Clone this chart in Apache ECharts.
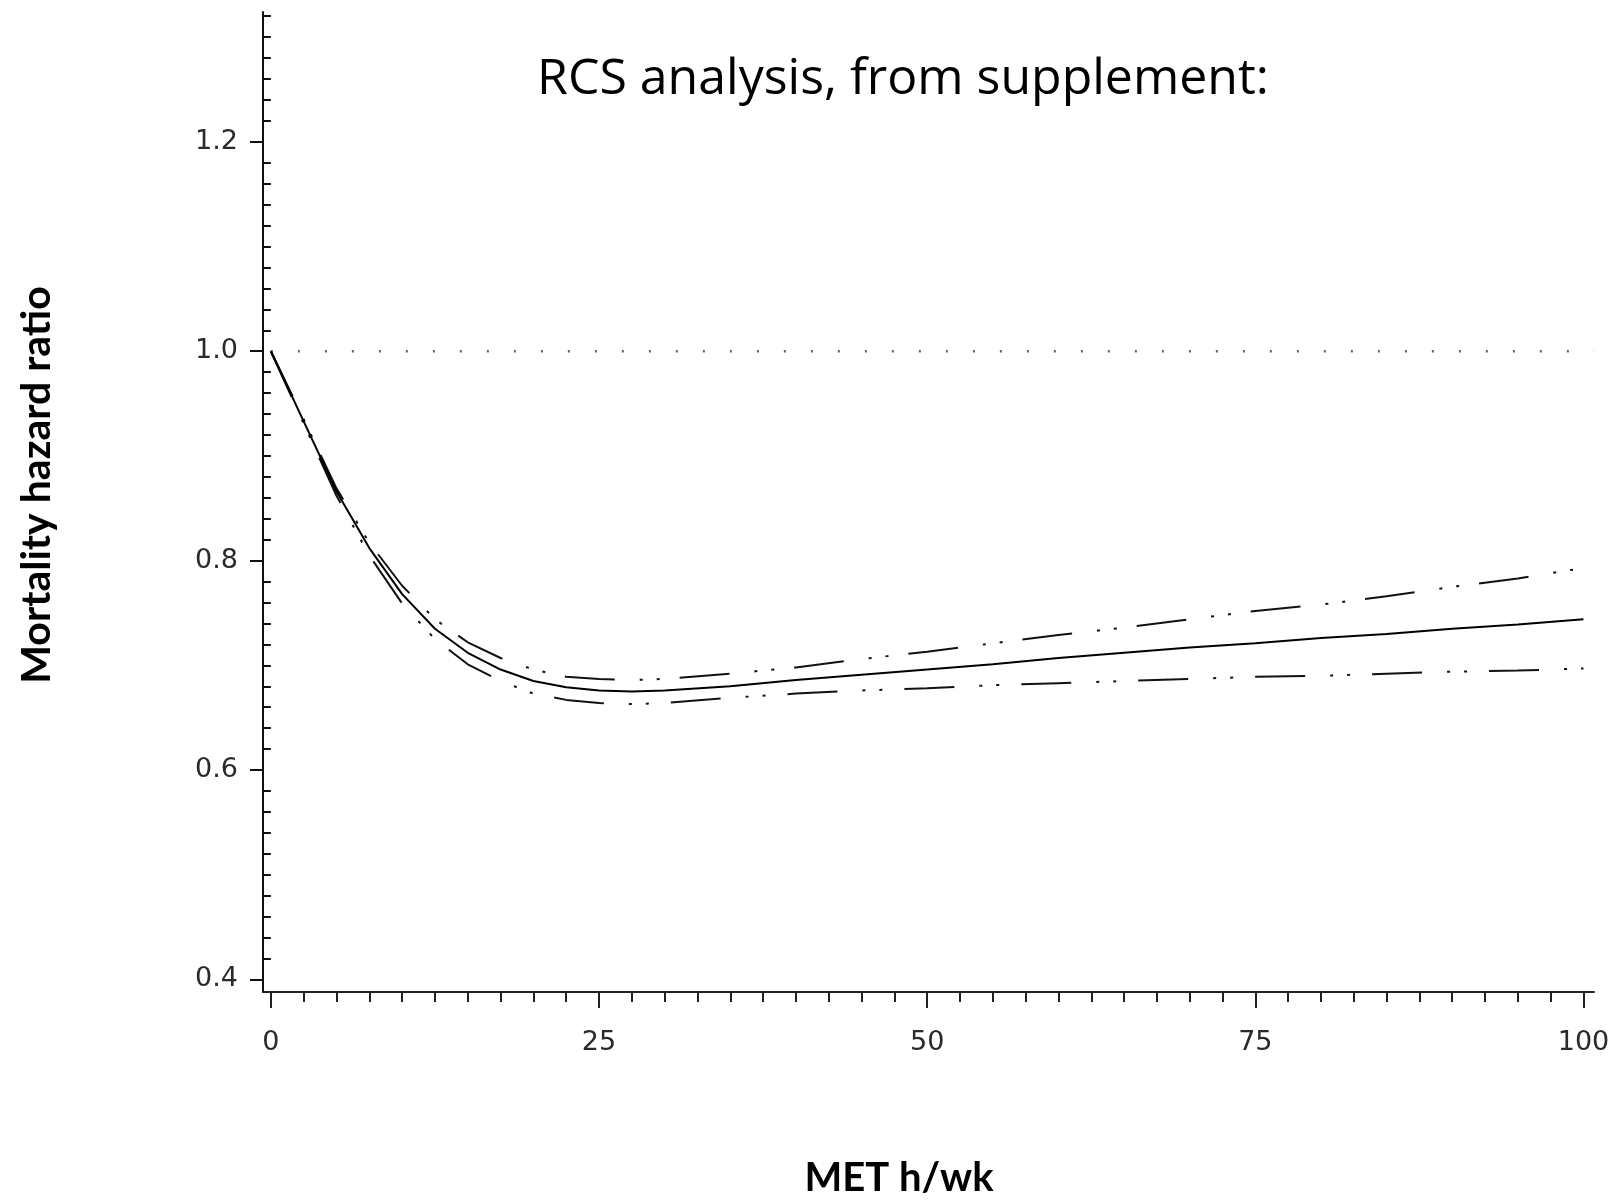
<!DOCTYPE html>
<html>
<head>
<meta charset="utf-8">
<script src="https://cdn.jsdelivr.net/npm/echarts@6/dist/echarts.min.js"></script>
<style>
html,body{margin:0;padding:0;background:#fff;}
#chart{width:1615px;height:1202px;}
</style>
</head>
<body>
<div id="chart"></div>
<script>
// ---- data ----
var metX = [0, 2.5, 5, 7.5, 10, 12.5, 15, 17.5, 20, 22.5, 25, 27.5, 30, 35, 40, 45, 50, 55, 60, 65, 70, 75, 80, 85, 90, 95, 100];
var hrCenter = [1.000, 0.933, 0.866, 0.812, 0.768, 0.735, 0.712, 0.696, 0.685, 0.679, 0.676, 0.675, 0.676, 0.680, 0.686, 0.691, 0.696, 0.701, 0.707, 0.712, 0.717, 0.721, 0.726, 0.730, 0.735, 0.739, 0.744];
var hrUpper  = [1.000, 0.935, 0.869, 0.817, 0.776, 0.744, 0.722, 0.707, 0.696, 0.689, 0.687, 0.686, 0.687, 0.692, 0.698, 0.706, 0.713, 0.721, 0.729, 0.736, 0.744, 0.752, 0.758, 0.766, 0.775, 0.783, 0.793];
var hrLower  = [1.000, 0.931, 0.862, 0.805, 0.759, 0.725, 0.701, 0.685, 0.673, 0.667, 0.664, 0.663, 0.664, 0.669, 0.673, 0.676, 0.678, 0.681, 0.683, 0.685, 0.687, 0.689, 0.690, 0.692, 0.694, 0.695, 0.697];
var refX = [0, 100.8];
var refY = [1.0, 1.0];

var xMajorTicks = [0, 25, 50, 75, 100];
var yMajorTicks = [0.4, 0.6, 0.8, 1.0, 1.2];

var titleText = 'RCS analysis, from supplement:';
var yTitle = 'Mortality hazard ratio';
var xTitle = 'MET h/wk';

// minor ticks
var xMinorTicks = [];
for (var i = 0; i <= 40; i++) { var v = i * 2.5; if (i % 10 !== 0) xMinorTicks.push(v); }
var yMinorTicks = [];
for (var j = 20; j <= 66; j++) { if (j % 10 !== 0) yMinorTicks.push(Math.round(j * 2) / 100); }

function zipXY(xs, ys) { return xs.map(function (x, k) { return [x, ys[k]]; }); }

var X_MIN = -0.6, X_MAX = 100.8, Y_MIN = 0.388, Y_MAX = 1.324;
var labelFont = { fontFamily: 'DejaVu Sans', fontSize: 27, color: '#2a2a2a' };

var chart = echarts.init(document.getElementById('chart'), null, { renderer: 'canvas' });
chart.setOption({
  animation: false,
  backgroundColor: '#fff',
  grid: { left: 263, right: 21, top: 12, bottom: 210, containLabel: false, outerBoundsMode: 'none' },
  xAxis: [
    {
      type: 'value', min: X_MIN, max: X_MAX, position: 'bottom',
      axisLine: { show: true, onZero: false, lineStyle: { color: '#222', width: 2 } },
      axisTick: { show: true, customValues: xMajorTicks, length: 16, lineStyle: { color: '#222', width: 2 } },
      axisLabel: Object.assign({ show: true, customValues: xMajorTicks, margin: 37, formatter: function (v) { return String(Math.round(v)); } }, labelFont),
      splitLine: { show: false }
    },
    {
      type: 'value', min: X_MIN, max: X_MAX, position: 'bottom',
      axisLine: { show: false },
      axisTick: { show: true, customValues: xMinorTicks, length: 10, lineStyle: { color: '#222', width: 2 } },
      axisLabel: { show: false },
      splitLine: { show: false }
    }
  ],
  yAxis: [
    {
      type: 'value', min: Y_MIN, max: Y_MAX, position: 'left',
      axisLine: { show: true, onZero: false, lineStyle: { color: '#111', width: 2 } },
      axisTick: { show: true, customValues: yMajorTicks, length: 13, lineStyle: { color: '#111', width: 2 } },
      axisLabel: Object.assign({ show: true, customValues: yMajorTicks, margin: 25, formatter: function (v) { return v.toFixed(1); } }, labelFont),
      splitLine: { show: false }
    },
    {
      type: 'value', min: Y_MIN, max: Y_MAX, position: 'left',
      axisLine: { show: false },
      axisTick: { show: true, customValues: yMinorTicks, length: 8, lineStyle: { color: '#111', width: 2 } },
      axisLabel: { show: false },
      splitLine: { show: false }
    }
  ],
  series: [
    {
      type: 'line', name: 'reference', data: zipXY(refX, refY), symbol: 'none', silent: true,
      lineStyle: { color: '#666', width: 2.5, type: [2, 25] }
    },
    {
      type: 'line', name: 'upper', data: zipXY(metX, hrUpper), symbol: 'none', silent: true,
      smooth: false,
      lineStyle: { color: '#111', width: 2, type: [50, 25, 3, 14, 3, 20] }
    },
    {
      type: 'line', name: 'lower', data: zipXY(metX, hrLower), symbol: 'none', silent: true,
      smooth: false,
      lineStyle: { color: '#111', width: 2, type: [50, 25, 3, 14, 3, 22] }
    },
    {
      type: 'line', name: 'center', data: zipXY(metX, hrCenter), symbol: 'none', silent: true,
      smooth: false,
      lineStyle: { color: '#000', width: 2, type: 'solid' }
    }
  ],
  graphic: [
    {
      type: 'text', x: 903, y: 80, silent: true,
      style: { text: titleText, fontFamily: 'Open Sans', fontSize: 50, fill: '#000', align: 'center', verticalAlign: 'middle' }
    },
    {
      type: 'text', x: 37, y: 485, rotation: Math.PI / 2, silent: true,
      style: { text: yTitle, fontFamily: 'Lato', fontWeight: 'bold', fontSize: 41, fill: '#000', align: 'center', verticalAlign: 'middle' }
    },
    {
      type: 'text', x: 899, y: 1178, silent: true,
      style: { text: xTitle, fontFamily: 'Lato', fontWeight: 'bold', fontSize: 40, fill: '#000', align: 'center', verticalAlign: 'middle' }
    }
  ]
});
</script>
</body>
</html>
